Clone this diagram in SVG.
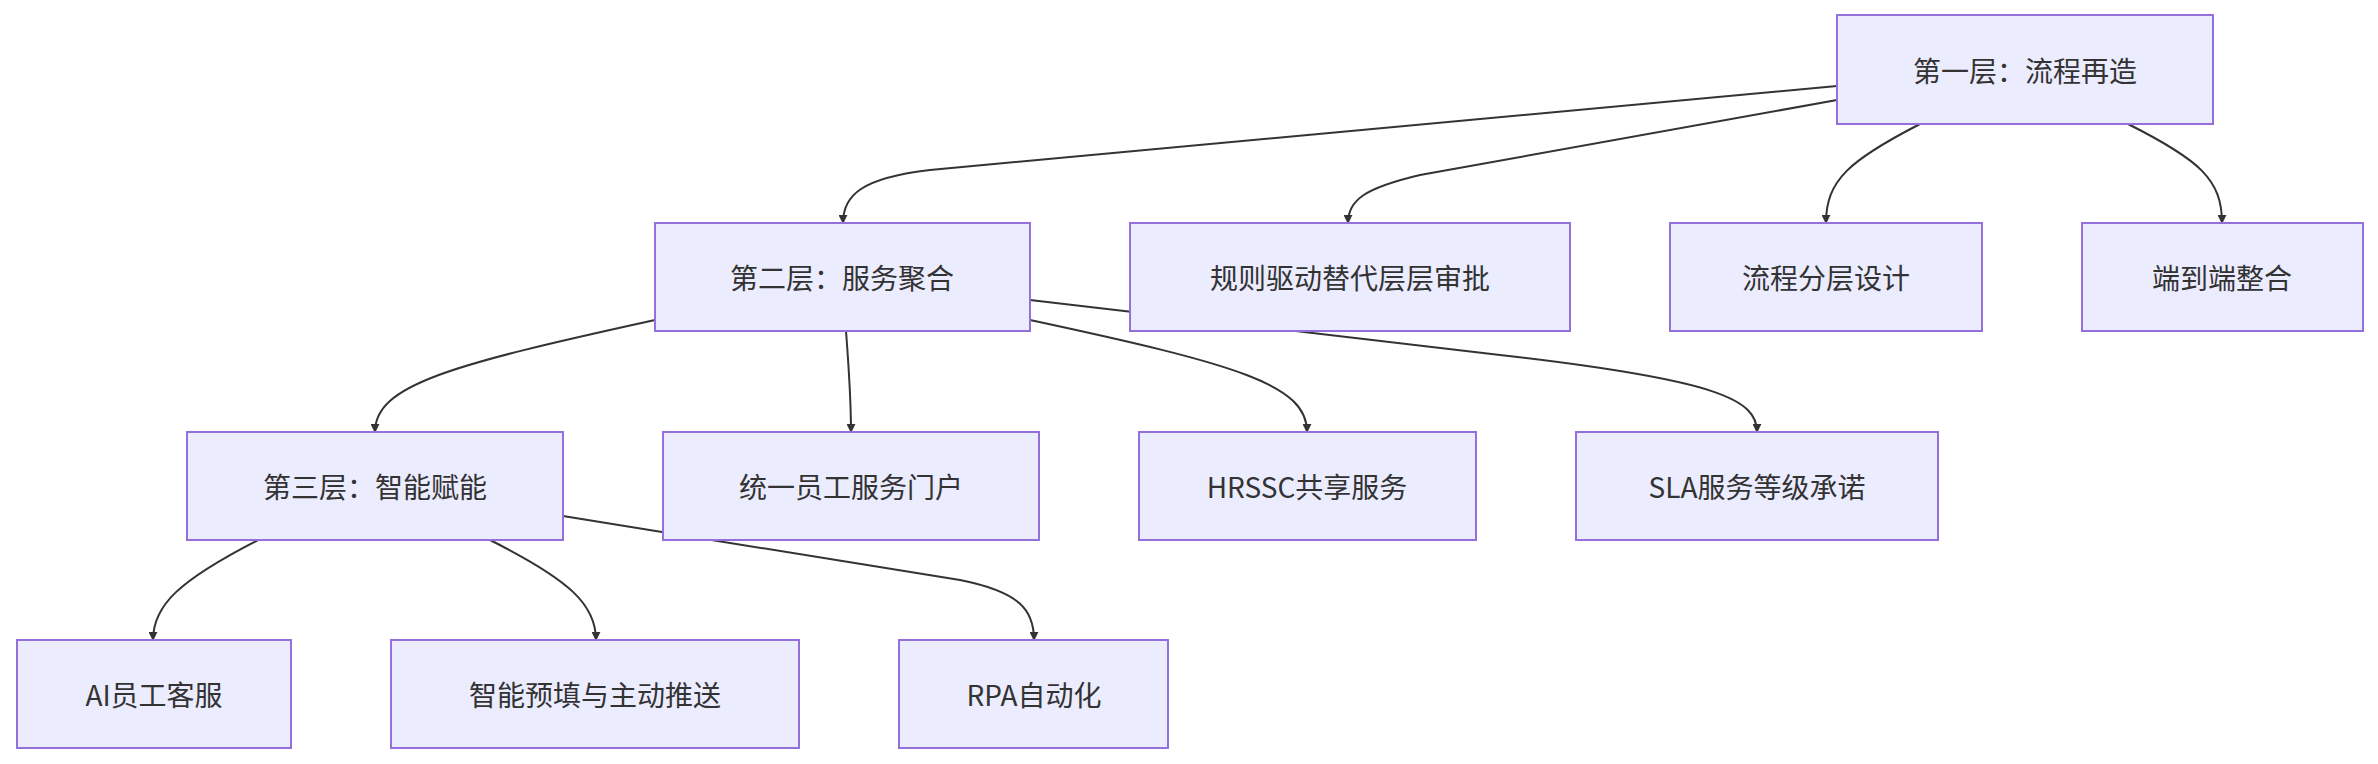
<svg xmlns="http://www.w3.org/2000/svg" width="2378" height="764" viewBox="0 0 2378 764">
<style>
.n rect{fill:#ECECFF;stroke:#9370DB;stroke-width:2}
.n text{font-family:"Noto Sans CJK SC","Liberation Sans",sans-serif;font-size:28px;fill:#333;text-anchor:middle;dominant-baseline:central}
.e path{fill:none;stroke:#333;stroke-width:2;marker-end:url(#a)}
</style>
<defs><marker id="a" viewBox="0 0 10 10" refX="9" refY="5" markerWidth="9" markerHeight="9" markerUnits="userSpaceOnUse" orient="auto"><path d="M0,0L10,5L0,10z" fill="#333"/></marker></defs>
<rect width="2378" height="764" fill="#fff"/>
<g id="connectors" class="e">
<path d="M1837,86 L930,170 C862,178 843,195 843,223"/>
<path d="M1837,100 L1420,175 C1365,188 1348,200 1348,223"/>
<path d="M1920,124 C1850,160 1826,180 1826,223"/>
<path d="M2128,124 C2200,160 2222,180 2222,223"/>
<path d="M655,320 C450,365 375,385 375,432"/>
<path d="M846,331 C849,370 851,400 851,432"/>
<path d="M1030,320 C1240,365 1307,385 1307,432"/>
<path d="M1030,300 L1500,355 C1720,380 1757,400 1757,432"/>
<path d="M258,540 C180,580 153,605 153,640"/>
<path d="M490,540 C570,580 596,605 596,640"/>
<path d="M563,516 L960,580 C1020,592 1034,610 1034,640"/>
</g>
<g id="n1" class="n"><rect x="1837" y="15" width="376" height="109"/><text x="2025" y="70">第一层：流程再造</text></g>
<g id="n2" class="n"><rect x="655" y="223" width="375" height="108"/><text x="842" y="277">第二层：服务聚合</text></g>
<g id="n3" class="n"><rect x="1130" y="223" width="440" height="108"/><text x="1350" y="277">规则驱动替代层层审批</text></g>
<g id="n4" class="n"><rect x="1670" y="223" width="312" height="108"/><text x="1826" y="277">流程分层设计</text></g>
<g id="n5" class="n"><rect x="2082" y="223" width="281" height="108"/><text x="2222" y="277">端到端整合</text></g>
<g id="n6" class="n"><rect x="187" y="432" width="376" height="108"/><text x="375" y="486">第三层：智能赋能</text></g>
<g id="n7" class="n"><rect x="663" y="432" width="376" height="108"/><text x="851" y="486">统一员工服务门户</text></g>
<g id="n8" class="n"><rect x="1139" y="432" width="337" height="108"/><text x="1307" y="486">HRSSC共享服务</text></g>
<g id="n9" class="n"><rect x="1576" y="432" width="362" height="108"/><text x="1757" y="486">SLA服务等级承诺</text></g>
<g id="n10" class="n"><rect x="17" y="640" width="274" height="108"/><text x="154" y="694">AI员工客服</text></g>
<g id="n11" class="n"><rect x="391" y="640" width="408" height="108"/><text x="595" y="694">智能预填与主动推送</text></g>
<g id="n12" class="n"><rect x="899" y="640" width="269" height="108"/><text x="1034" y="694">RPA自动化</text></g>
</svg>
